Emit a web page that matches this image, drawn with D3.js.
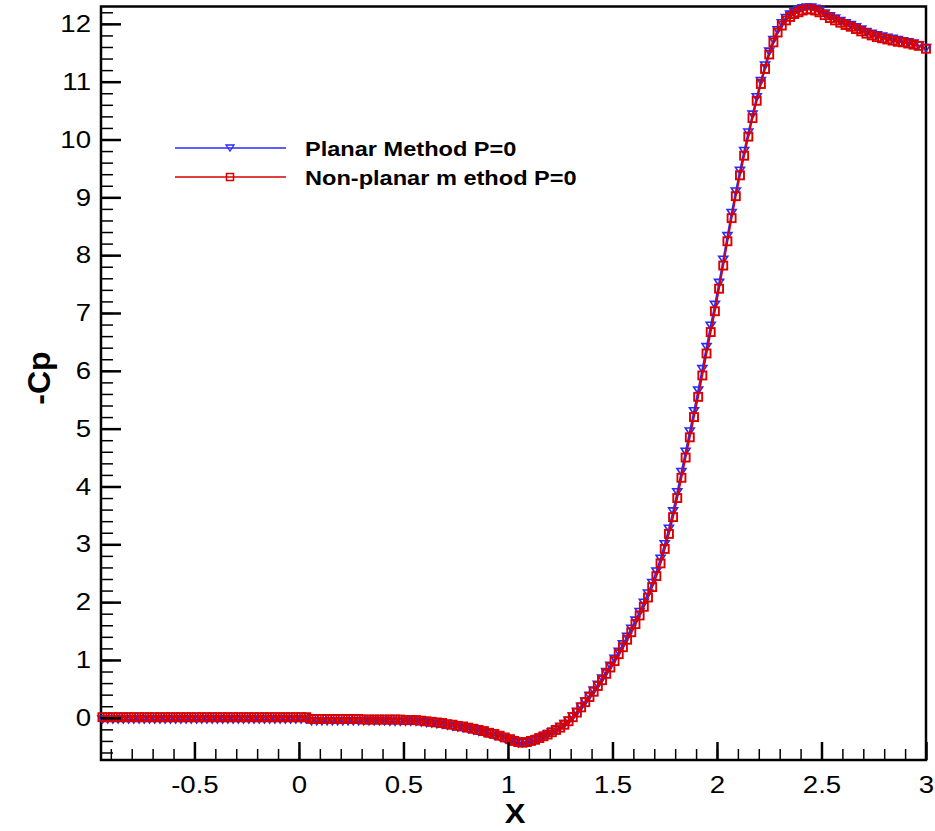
<html>
<head>
<title>-Cp vs X</title>
<script src="https://cdnjs.cloudflare.com/ajax/libs/d3/7.8.5/d3.min.js"></script>
<style>
  body { margin: 0; background: #fff; }
  text { font-family: Arial, "Liberation Sans", sans-serif; }
</style>
</head>
<body>
<div id="vis_container"></div>
<script>

// x stations (shared by both series)
var xs = [
  -0.94, -0.915, -0.89, -0.865, -0.84, -0.815, -0.79, -0.765, -0.74, -0.715,
  -0.69, -0.665, -0.64, -0.615, -0.59, -0.565, -0.54, -0.515, -0.49, -0.465,
  -0.44, -0.415, -0.39, -0.365, -0.34, -0.315, -0.29, -0.265, -0.24, -0.215,
  -0.19, -0.165, -0.14, -0.115, -0.09, -0.065, -0.04, -0.015, 0.01, 0.035,
  0.06, 0.085, 0.11, 0.135, 0.16, 0.185, 0.21, 0.235, 0.26, 0.285,
  0.31, 0.335, 0.36, 0.385, 0.41, 0.435, 0.46, 0.485, 0.51, 0.535, 0.56,
  0.585, 0.61, 0.635, 0.66, 0.685, 0.71, 0.735, 0.76, 0.785, 0.81,
  0.835, 0.86, 0.885, 0.91, 0.935, 0.96, 0.985,
  1.01, 1.03, 1.05, 1.07, 1.09, 1.11, 1.13, 1.15, 1.17, 1.19,
  1.21, 1.23, 1.25, 1.27, 1.29, 1.31, 1.33, 1.35, 1.37, 1.39,
  1.41, 1.43, 1.45, 1.47, 1.49, 1.51, 1.53, 1.55, 1.57, 1.59,
  1.61, 1.63, 1.65, 1.67, 1.69, 1.71, 1.73, 1.75, 1.77, 1.79,
  1.81, 1.83, 1.85, 1.87, 1.89, 1.91, 1.93, 1.95, 1.97, 1.99,
  2.01, 2.03, 2.05, 2.07, 2.09, 2.11, 2.13, 2.15, 2.17, 2.19,
  2.21, 2.23, 2.25, 2.27, 2.29, 2.31, 2.33, 2.35, 2.37, 2.39,
  2.41, 2.43, 2.45, 2.47, 2.49,
  2.515, 2.54, 2.565, 2.59, 2.615, 2.64, 2.665, 2.69, 2.715, 2.74,
  2.765, 2.79, 2.815, 2.84, 2.865, 2.89, 2.915, 2.94, 2.965, 3.0
];

// Non-planar method P=0 (red squares)
var nonPlanarCp = [
  0.01, 0.01, 0.01, 0.01, 0.01, 0.01, 0.01, 0.01, 0.01, 0.01,
  0.01, 0.01, 0.01, 0.01, 0.01, 0.01, 0.01, 0.01, 0.01, 0.01,
  0.01, 0.01, 0.01, 0.01, 0.01, 0.01, 0.01, 0.01, 0.01, 0.01,
  0.01, 0.01, 0.01, 0.01, 0.01, 0.01, 0.01, 0.01, 0.01, 0.01,
  -0.02, -0.02, -0.02, -0.02, -0.02, -0.02, -0.02, -0.02, -0.02, -0.02,
  -0.03, -0.03, -0.03, -0.03, -0.03, -0.03, -0.03, -0.03, -0.04, -0.04, -0.04,
  -0.05, -0.06, -0.07, -0.08, -0.09, -0.11, -0.12, -0.14, -0.15, -0.17,
  -0.19, -0.21, -0.23, -0.26, -0.28, -0.31, -0.34,
  -0.37, -0.40, -0.42, -0.43, -0.42, -0.40, -0.38, -0.35, -0.32, -0.29,
  -0.25, -0.21, -0.17, -0.12, -0.06, 0.01, 0.09, 0.18, 0.27, 0.36,
  0.45, 0.55, 0.65, 0.76, 0.87, 0.98, 1.10, 1.22, 1.35, 1.48,
  1.62, 1.77, 1.92, 2.08, 2.26, 2.45, 2.67, 2.92, 3.18, 3.47,
  3.80, 4.15, 4.50, 4.85, 5.20, 5.55, 5.92, 6.30, 6.67, 7.03,
  7.42, 7.82, 8.24, 8.64, 9.02, 9.38, 9.72, 10.05, 10.37, 10.67,
  10.96, 11.22, 11.47, 11.68, 11.85, 11.97, 12.06, 12.12, 12.17, 12.20,
  12.23, 12.25, 12.25, 12.23, 12.20,
  12.15, 12.10, 12.06, 12.02, 11.98, 11.95, 11.91, 11.87, 11.83, 11.80,
  11.77, 11.75, 11.73, 11.71, 11.69, 11.68, 11.66, 11.64, 11.62, 11.57
];

// Planar Method P=0 (blue triangles)
var planarCp = [
  -0.03, -0.03, -0.03, -0.03, -0.03, -0.03, -0.03, -0.03, -0.03, -0.03,
  -0.03, -0.03, -0.03, -0.03, -0.03, -0.03, -0.03, -0.03, -0.03, -0.03,
  -0.03, -0.03, -0.03, -0.03, -0.03, -0.03, -0.03, -0.03, -0.03, -0.03,
  -0.03, -0.03, -0.03, -0.03, -0.03, -0.03, -0.03, -0.03, -0.03, -0.03,
  -0.06, -0.06, -0.06, -0.06, -0.06, -0.06, -0.06, -0.06, -0.06, -0.06,
  -0.06, -0.06, -0.06, -0.06, -0.06, -0.07, -0.07, -0.07, -0.07, -0.07, -0.07,
  -0.08, -0.09, -0.10, -0.11, -0.12, -0.14, -0.15, -0.17, -0.18, -0.20,
  -0.22, -0.24, -0.26, -0.28, -0.31, -0.33, -0.36,
  -0.39, -0.42, -0.44, -0.44, -0.43, -0.41, -0.39, -0.36, -0.33, -0.29,
  -0.25, -0.21, -0.16, -0.11, -0.05, 0.02, 0.10, 0.19, 0.28, 0.38,
  0.47, 0.57, 0.68, 0.79, 0.90, 1.02, 1.14, 1.27, 1.40, 1.54,
  1.68, 1.83, 1.99, 2.15, 2.33, 2.53, 2.75, 3.00, 3.27, 3.57,
  3.90, 4.25, 4.60, 4.95, 5.30, 5.66, 6.03, 6.41, 6.78, 7.14,
  7.52, 7.92, 8.33, 8.73, 9.10, 9.46, 9.80, 10.12, 10.43, 10.73,
  11.01, 11.28, 11.52, 11.72, 11.89, 12.01, 12.10, 12.16, 12.21, 12.24,
  12.27, 12.28, 12.28, 12.26, 12.23,
  12.18, 12.13, 12.09, 12.05, 12.01, 11.98, 11.94, 11.90, 11.86, 11.83,
  11.80, 11.78, 11.76, 11.74, 11.72, 11.70, 11.68, 11.66, 11.63, 11.58
];

var xTicks = [-0.5, 0, 0.5, 1, 1.5, 2, 2.5, 3];
var xTickLabels = ["-0.5", "0", "0.5", "1", "1.5", "2", "2.5", "3"];
var yTicks = [0, 1, 2, 3, 4, 5, 6, 7, 8, 9, 10, 11, 12];
var seriesNames = ["Planar Method P=0", "Non-planar m ethod P=0"];

var width = 935, height = 831;
var plotLeft = 101, plotRight = 926, plotTop = 6.5, plotBottom = 760;
var blue = "#2a2aff", red = "#d80000";
var stretch = 1.15;   // the original text is a little wide

var svg = d3.select("#vis_container").append("svg")
    .attr("width", width)
    .attr("height", height);

var x = d3.scaleLinear().domain([-0.947, 3]).range([plotLeft, plotRight]);
var y = d3.scaleLinear().domain([-0.73, 12.3]).range([plotBottom, plotTop]);

// frame
svg.append("rect")
    .attr("x", plotLeft).attr("y", plotTop)
    .attr("width", plotRight - plotLeft).attr("height", plotBottom - plotTop)
    .attr("fill", "none").attr("stroke", "#000").attr("stroke-width", 2.5);

var planar = xs.map(function(d, i) { return [d, planarCp[i]]; });
var nonPlanar = xs.map(function(d, i) { return [d, nonPlanarCp[i]]; });

var line = d3.line()
    .x(function(d) { return x(d[0]); })
    .y(function(d) { return y(d[1]); });

var tri = "M-4.5,-3.5L4.5,-3.5L0,3.5Z";
var sq = 8;

// planar series
svg.append("path").datum(planar)
    .attr("d", line).attr("fill", "none")
    .attr("stroke", blue).attr("stroke-width", 1.8);
svg.append("g").selectAll("path").data(planar)
    .enter().append("path")
    .attr("d", tri)
    .attr("transform", function(d) { return "translate(" + x(d[0]) + "," + y(d[1]) + ")"; })
    .attr("fill", "none").attr("stroke", blue).attr("stroke-width", 1.6);

// non-planar series
svg.append("path").datum(nonPlanar)
    .attr("d", line).attr("fill", "none")
    .attr("stroke", red).attr("stroke-width", 1.8);
svg.append("g").selectAll("rect").data(nonPlanar)
    .enter().append("rect")
    .attr("x", function(d) { return x(d[0]) - sq / 2; })
    .attr("y", function(d) { return y(d[1]) - sq / 2; })
    .attr("width", sq).attr("height", sq)
    .attr("fill", "none").attr("stroke", red).attr("stroke-width", 1.9);

// x axis: inward ticks
svg.append("g")
    .attr("transform", "translate(0," + plotBottom + ")")
    .call(d3.axisBottom(x).tickValues(d3.range(-0.9, 3.0, 0.1)).tickSize(-11).tickFormat(""))
    .call(function(g) { g.select(".domain").remove(); g.selectAll("line").attr("stroke-width", 1.5); });

var xAxis = svg.append("g")
    .attr("transform", "translate(0," + plotBottom + ")")
    .call(d3.axisBottom(x).tickValues(xTicks).tickSize(-18).tickPadding(16)
        .tickFormat(function(d, i) { return xTickLabels[i]; }));
xAxis.select(".domain").remove();
xAxis.selectAll("line").attr("stroke-width", 2.5);
xAxis.selectAll("text")
    .attr("font-size", 24).attr("fill", "#000")
    .attr("font-family", "Arial, 'Liberation Sans', sans-serif")
    .attr("transform", "scale(" + stretch + ",1)");

// y axis: inward ticks
svg.append("g")
    .attr("transform", "translate(" + plotLeft + ",0)")
    .call(d3.axisLeft(y).tickValues(d3.range(-0.6, 12.3, 0.2)).tickSize(-12).tickFormat(""))
    .call(function(g) { g.select(".domain").remove(); g.selectAll("line").attr("stroke-width", 1.5); });

var yAxis = svg.append("g")
    .attr("transform", "translate(" + plotLeft + ",0)")
    .call(d3.axisLeft(y).tickValues(yTicks).tickSize(-20).tickPadding(10).tickFormat(d3.format("d")));
yAxis.select(".domain").remove();
yAxis.selectAll("line").attr("stroke-width", 2.5);
yAxis.selectAll("text")
    .attr("font-size", 24).attr("fill", "#000")
    .attr("font-family", "Arial, 'Liberation Sans', sans-serif")
    .attr("x", -10 / stretch)
    .attr("transform", "scale(" + stretch + ",1)");

// axis titles
svg.append("text")
    .attr("transform", "translate(50,378) rotate(-90)")
    .attr("text-anchor", "middle")
    .attr("font-size", 32).attr("font-weight", "bold")
    .text("-Cp");

svg.append("text")
    .attr("transform", "translate(515,823) scale(" + stretch + ",1)")
    .attr("text-anchor", "middle")
    .attr("font-size", 27).attr("font-weight", "bold")
    .text("X");

// legend
var legend = svg.append("g");
var legendY = [148, 177];
var colors = [blue, red];
seriesNames.forEach(function(name, i) {
    var row = legend.append("g").attr("transform", "translate(0," + legendY[i] + ")");
    row.append("line")
        .attr("x1", 175).attr("x2", 286)
        .attr("stroke", colors[i]).attr("stroke-width", 1.5);
    if (i === 0) {
        row.append("path").attr("d", "M-4,-3L4,-3L0,3Z")
            .attr("transform", "translate(230,0)")
            .attr("fill", "none").attr("stroke", blue).attr("stroke-width", 1.3);
    } else {
        row.append("rect").attr("x", 226.5).attr("y", -3.5)
            .attr("width", 7).attr("height", 7)
            .attr("fill", "none").attr("stroke", red).attr("stroke-width", 1.5);
    }
    row.append("text")
        .attr("transform", "translate(305,7.5) scale(" + stretch + ",1)")
        .attr("font-size", 20.5).attr("font-weight", "bold")
        .text(name);
});

</script>
</body>
</html>
